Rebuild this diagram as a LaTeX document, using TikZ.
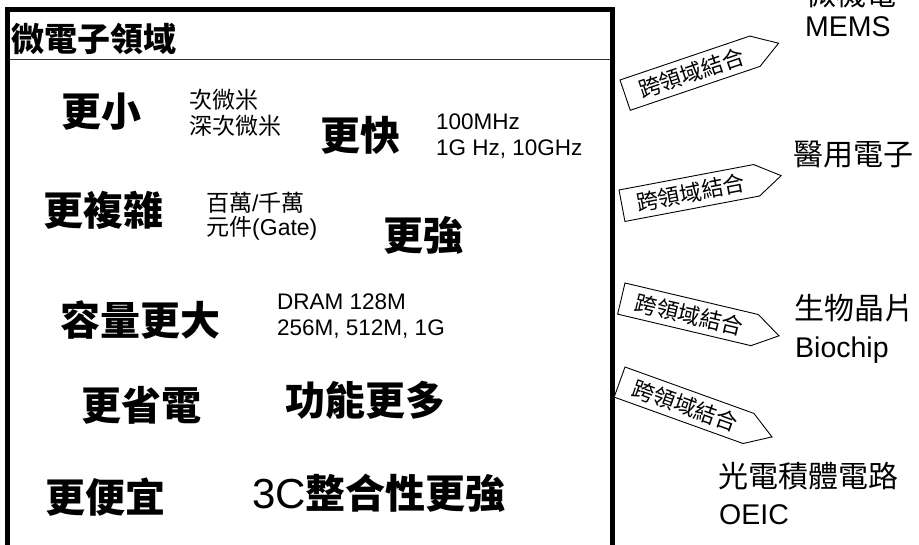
\documentclass[tikz,border=0pt]{standalone}
\usepackage{fontspec}
\setmainfont{Liberation Sans}
\newfontfamily\latf{Liberation Sans}
\newfontfamily\cjk{Noto Sans CJK TC}
\begin{document}
\begin{tikzpicture}[x=1pt,y=-1pt,
  bigt/.style={inner sep=0pt, anchor=west, font=\cjk\bfseries\fontsize{40}{44}\selectfont},
  titlet/.style={inner sep=0pt, anchor=west, font=\cjk\bfseries\fontsize{33}{36}\selectfont},
  smallc/.style={inner sep=0pt, anchor=west, font=\cjk\fontsize{23}{26}\selectfont},
  smalll/.style={inner sep=0pt, anchor=base west, font=\latf\fontsize{22.5}{26}\selectfont},
  rc/.style={inner sep=0pt, anchor=west, font=\cjk\fontsize{30}{34}\selectfont},
  rl/.style={inner sep=0pt, anchor=base west, font=\latf\fontsize{28.5}{32}\selectfont},
  arrowline/.style={draw=black, line width=0.9pt, fill=white, line join=miter},
  arrowtxt/.style={inner sep=0pt, transform shape, font=\cjk\fontsize{22}{24}\selectfont},
  frame/.style={draw=black, line width=5pt}
]
\useasboundingbox (0,0) rectangle (919,545);
\clip (0,0) rectangle (919,545);
\fill[white] (0,0) rectangle (919,545);

% main frame
\draw[frame] (7.5,560) -- (7.5,9.5) -- (612.5,9.5) -- (612.5,560);
\draw[black!80, line width=1.2pt] (10,59.5) -- (610,59.5);
\node[titlet] (title) at (11,39) {微電子領域};

% left content
\node[bigt] (n1) at (61,112) {更小};
\node[smallc] (n1a) at (189,100) {次微米};
\node[smallc] (n1b) at (189,126) {深次微米};
\node[bigt] (n2) at (320,135) {更快};
\node[smalll] (n2a) at (436,130) {100MHz};
\node[smalll] (n2b) at (436,156) {1G Hz, 10GHz};
\node[bigt] (n3) at (43,210) {更複雜};
\node[smallc] (n3a) at (206,203) {百萬{\latf/}千萬};
\node[smallc] (n3b) at (206,228) {元件{\latf(Gate)}};
\node[bigt] (n4) at (383,235) {更強};
\node[bigt] (n5) at (60,320) {容量更大};
\node[smalll] (n5a) at (277,310) {DRAM 128M};
\node[smalll] (n5b) at (277,336) {256M, 512M, 1G};
\node[bigt] (n6) at (81,405) {更省電};
\node[bigt] (n7) at (285,400) {功能更多};
\node[bigt] (n8) at (45,497) {更便宜};
\node[bigt] (n9) at (252,493) {{\latf\mdseries\fontsize{42}{46}\selectfont 3C}整合性更強};

% arrows
\begin{scope}[shift={(620,80)}, rotate=18.7]
  \draw[arrowline] (0,0) -- (137,0) -- (162,16) -- (137,32) -- (0,32) -- cycle;
  \node[arrowtxt] (a1) at (70,16) {跨領域結合};
\end{scope}
\begin{scope}[shift={(619,190)}, rotate=10.7]
  \draw[arrowline] (0,0) -- (137,0) -- (162,16) -- (137,32) -- (0,32) -- cycle;
  \node[arrowtxt] (a2) at (70,16) {跨領域結合};
\end{scope}
\begin{scope}[shift={(625,283)}, rotate=-13.3]
  \draw[arrowline] (0,0) -- (137,0) -- (162,16) -- (137,32) -- (0,32) -- cycle;
  \node[arrowtxt] (a3) at (70,16) {跨領域結合};
\end{scope}
\begin{scope}[shift={(625,367)}, rotate=-19.8]
  \draw[arrowline] (0,0) -- (137,0) -- (162,16) -- (137,32) -- (0,32) -- cycle;
  \node[arrowtxt] (a4) at (70,16) {跨領域結合};
\end{scope}

% right labels
\node[rc] (r1) at (806,-6) {微機電};
\node[rl] (r1b) at (805,37) {MEMS};
\node[rc] (r2) at (793,155) {醫用電子};
\node[rc] (r3) at (794,308) {生物晶片};
\node[rl] (r3b) at (795,358) {Biochip};
\node[rc] (r4) at (718,476) {光電積體電路};
\node[rl] (r4b) at (719,524) {OEIC};
\end{tikzpicture}
\end{document}
